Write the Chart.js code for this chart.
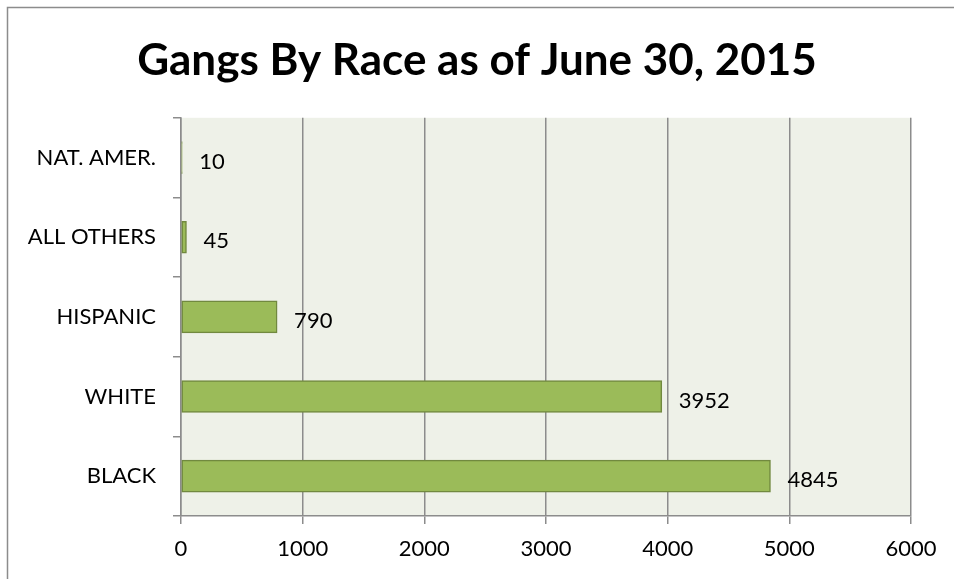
<!DOCTYPE html>
<html>
<head>
<meta charset="utf-8">
<script src="https://cdn.jsdelivr.net/npm/chart.js@4"></script>
<style>
    html, body { margin: 0; padding: 0; background: #fff; }
    #wrap { width: 954px; height: 579px; }
</style>
</head>
<body>
<div id="wrap"><canvas id="barChart"></canvas></div>
<script>
// Gangs by race
const races = ['NAT. AMER.', 'ALL OTHERS', 'HISPANIC', 'WHITE', 'BLACK'];
const gangCounts = [10, 45, 790, 3952, 4845];
const xTicks = [0, 1000, 2000, 3000, 4000, 5000, 6000];

const fontFamily = 'Lato, "Open Sans", sans-serif';

// plot background + outer frame
const framePlugin = {
    id: 'frame',
    beforeDraw(chart) {
        const ctx = chart.ctx;
        const a = chart.chartArea;
        ctx.save();
        ctx.fillStyle = '#eef1e8';
        ctx.fillRect(a.left, a.top, a.right - a.left, a.bottom - a.top);
        ctx.strokeStyle = '#8c8c8c';
        ctx.lineWidth = 1.5;
        ctx.strokeRect(7.5, 7.5, chart.width + 10, chart.height + 10);
        ctx.restore();
    }
};

// value labels to the right of each bar
const valueLabels = {
    id: 'valueLabels',
    afterDatasetsDraw(chart) {
        const ctx = chart.ctx;
        const meta = chart.getDatasetMeta(0);
        ctx.save();
        ctx.font = '22px ' + fontFamily;
        ctx.fillStyle = '#000';
        ctx.textAlign = 'left';
        ctx.textBaseline = 'middle';
        meta.data.forEach((bar, i) => {
            const p = bar.getProps(['x', 'y'], true);
            ctx.fillText(String(gangCounts[i]), p.x + 17, p.y + 4);
        });
        ctx.restore();
    }
};

const barChart = new Chart(document.getElementById('barChart'), {
    type: 'bar',
    data: {
        labels: races,
        datasets: [{
            data: gangCounts,
            backgroundColor: '#9bbb59',
            borderColor: '#71893f',
            borderWidth: 1.5,
            borderSkipped: false,
            barThickness: 32
        }]
    },
    options: {
        indexAxis: 'y',
        responsive: true,
        maintainAspectRatio: false,
        animation: false,
        layout: { padding: 0 },
        scales: {
            x: {
                min: 0,
                max: 6000,
                afterBuildTicks: (scale) => { scale.ticks = xTicks.map(v => ({ value: v })); },
                afterFit: (scale) => { scale.height = 63; },
                border: { color: '#8c8c8c', width: 1.5 },
                grid: { color: '#8c8c8c', lineWidth: 1.5, tickLength: 8 },
                ticks: {
                    padding: 12,
                    color: '#000',
                    font: { family: fontFamily, size: 22 },
                    callback: (v) => String(v)
                }
            },
            y: {
                afterFit: (scale) => { scale.width = 181; },
                border: { color: '#8c8c8c', width: 1.5 },
                grid: { offset: true, drawOnChartArea: false, color: '#8c8c8c', lineWidth: 1.5, tickLength: 8 },
                ticks: {
                    padding: 17,
                    color: '#000',
                    font: { family: fontFamily, size: 22 }
                }
            },
            // empty right-hand axis, only keeps the plot's right margin
            yRight: {
                type: 'category',
                position: 'right',
                labels: races,
                afterFit: (scale) => { scale.width = 43; },
                border: { display: false },
                grid: { display: false },
                ticks: { display: false }
            }
        },
        plugins: {
            legend: { display: false },
            tooltip: { enabled: false },
            title: {
                display: true,
                text: 'Gangs By Race as of June 30, 2015',
                color: '#000',
                font: { family: fontFamily, size: 44, weight: 'bold', lineHeight: 1.2 },
                padding: { top: 34, bottom: 31 }
            }
        }
    },
    plugins: [framePlugin, valueLabels]
});
</script>
</body>
</html>
